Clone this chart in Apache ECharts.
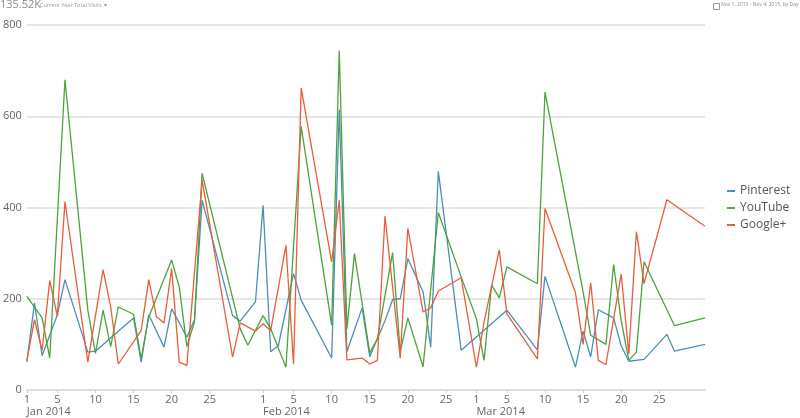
<!DOCTYPE html>
<html>
<head>
<meta charset="utf-8">
<script src="https://cdn.jsdelivr.net/npm/echarts@6/dist/echarts.min.js"></script>
<style>
  html, body { margin: 0; padding: 0; background: #fff; }
  #chart { width: 800px; height: 418px; }
</style>
</head>
<body>
<div id="chart"></div>
<script>
// visits per day, [date, value]
var pinterest = [
  ['2014-01-01', 61], ['2014-01-02', 191], ['2014-01-03', 75], ['2014-01-05', 165], ['2014-01-06', 242],
  ['2014-01-09', 83], ['2014-01-10', 85], ['2014-01-15', 158], ['2014-01-16', 61], ['2014-01-17', 165],
  ['2014-01-19', 94], ['2014-01-20', 178], ['2014-01-22', 116], ['2014-01-23', 154], ['2014-01-24', 416],
  ['2014-01-28', 163], ['2014-01-29', 151], ['2014-01-31', 193], ['2014-02-01', 405], ['2014-02-02', 84],
  ['2014-02-03', 97], ['2014-02-05', 255], ['2014-02-06', 197], ['2014-02-10', 70], ['2014-02-11', 614],
  ['2014-02-12', 84], ['2014-02-14', 180], ['2014-02-15', 73], ['2014-02-17', 152], ['2014-02-18', 198],
  ['2014-02-19', 200], ['2014-02-20', 288], ['2014-02-22', 215], ['2014-02-23', 94], ['2014-02-24', 479],
  ['2014-02-27', 87], ['2014-03-05', 175], ['2014-03-09', 88], ['2014-03-10', 249], ['2014-03-14', 50],
  ['2014-03-15', 129], ['2014-03-16', 73], ['2014-03-17', 176], ['2014-03-19', 158], ['2014-03-20', 97],
  ['2014-03-21', 63], ['2014-03-23', 67], ['2014-03-26', 122], ['2014-03-27', 85], ['2014-03-31', 100]
];

var youtube = [
  ['2014-01-01', 205], ['2014-01-03', 158], ['2014-01-04', 70], ['2014-01-06', 680], ['2014-01-09', 175],
  ['2014-01-10', 80], ['2014-01-11', 175], ['2014-01-12', 95], ['2014-01-13', 182], ['2014-01-15', 166],
  ['2014-01-16', 68], ['2014-01-17', 160], ['2014-01-20', 285], ['2014-01-21', 226], ['2014-01-22', 95],
  ['2014-01-23', 150], ['2014-01-24', 475], ['2014-01-29', 134], ['2014-01-30', 98], ['2014-02-01', 163],
  ['2014-02-02', 134], ['2014-02-04', 50], ['2014-02-06', 578], ['2014-02-10', 142], ['2014-02-11', 744],
  ['2014-02-12', 134], ['2014-02-13', 299], ['2014-02-15', 81], ['2014-02-16', 112], ['2014-02-18', 301],
  ['2014-02-19', 84], ['2014-02-20', 158], ['2014-02-22', 51], ['2014-02-24', 389], ['2014-02-27', 248],
  ['2014-03-01', 156], ['2014-03-02', 65], ['2014-03-03', 230], ['2014-03-04', 202], ['2014-03-05', 270],
  ['2014-03-09', 233], ['2014-03-10', 653], ['2014-03-15', 215], ['2014-03-16', 120], ['2014-03-18', 100],
  ['2014-03-19', 275], ['2014-03-20', 152], ['2014-03-21', 65], ['2014-03-22', 83], ['2014-03-23', 281],
  ['2014-03-27', 141], ['2014-03-31', 158]
];

var googlePlus = [
  ['2014-01-01', 65], ['2014-01-02', 154], ['2014-01-03', 87], ['2014-01-04', 240], ['2014-01-05', 162],
  ['2014-01-06', 413], ['2014-01-09', 61], ['2014-01-11', 264], ['2014-01-12', 182], ['2014-01-13', 57],
  ['2014-01-16', 130], ['2014-01-17', 242], ['2014-01-18', 161], ['2014-01-19', 147], ['2014-01-20', 266],
  ['2014-01-21', 61], ['2014-01-22', 54], ['2014-01-24', 460], ['2014-01-28', 72], ['2014-01-29', 147],
  ['2014-01-31', 129], ['2014-02-01', 145], ['2014-02-02', 130], ['2014-02-04', 317], ['2014-02-05', 57],
  ['2014-02-06', 662], ['2014-02-10', 281], ['2014-02-11', 416], ['2014-02-12', 66], ['2014-02-14', 70],
  ['2014-02-15', 57], ['2014-02-16', 65], ['2014-02-17', 381], ['2014-02-19', 70], ['2014-02-20', 354],
  ['2014-02-22', 171], ['2014-02-23', 180], ['2014-02-24', 217], ['2014-02-27', 246], ['2014-03-01', 50],
  ['2014-03-02', 149], ['2014-03-04', 307], ['2014-03-05', 167], ['2014-03-09', 68], ['2014-03-10', 398],
  ['2014-03-14', 213], ['2014-03-15', 100], ['2014-03-16', 235], ['2014-03-17', 65], ['2014-03-18', 56],
  ['2014-03-20', 254], ['2014-03-21', 79], ['2014-03-22', 347], ['2014-03-23', 233], ['2014-03-26', 417],
  ['2014-03-31', 359]
];

// tick labels on the date axis
var tickDates = [
  '2014-01-01', '2014-01-05', '2014-01-10', '2014-01-15', '2014-01-20', '2014-01-25',
  '2014-02-01', '2014-02-05', '2014-02-10', '2014-02-15', '2014-02-20', '2014-02-25',
  '2014-03-01', '2014-03-05', '2014-03-10', '2014-03-15', '2014-03-20', '2014-03-25'
];
var monthDates = ['2014-01-01', '2014-02-01', '2014-03-01'];
var monthNames = ['Jan', 'Feb', 'Mar', 'Apr', 'May', 'Jun', 'Jul', 'Aug', 'Sep', 'Oct', 'Nov', 'Dec'];

var COLORS = ['#4a8fb5', '#4ba33a', '#ea5d3a'];
var FONT = '"Open Sans", "Noto Sans", sans-serif';

function ts(s) {
  var p = s.split('-');
  return Date.UTC(+p[0], +p[1] - 1, +p[2]);
}

var chart = echarts.init(document.getElementById('chart'));

var option = {
  animation: false,
  color: COLORS,
  textStyle: { fontFamily: FONT },
  grid: { left: 26, right: 95, top: 25, bottom: 28 },
  legend: {
    orient: 'vertical',
    left: 722,
    top: 180,
    icon: 'rect',
    itemWidth: 8,
    itemHeight: 2,
    itemGap: 5,
    textStyle: { color: '#555', fontSize: 12, fontFamily: FONT },
    data: ['Pinterest', 'YouTube', 'Google+']
  },
  graphic: [
    { type: 'text', left: 0, top: -1,
      style: { text: '135.52K', fill: '#8a8a8a', font: '11px ' + FONT } },
    { type: 'text', left: 40, top: 2,
      style: { text: 'Current Year Total Visits  \u25BE', fill: '#9a9a9a', font: '5.5px ' + FONT } },
    { type: 'rect', left: 711, top: 1, shape: { width: 6, height: 6 },
      style: { fill: 'none', stroke: '#999', lineWidth: 1 } },
    { type: 'text', left: 721, top: 2,
      style: { text: 'Nov 1, 2013 - Nov 4, 2015, by Day  \u25BE', fill: '#8a8a8a', font: '5px ' + FONT } }
  ],
  xAxis: [{
    type: 'value',
    min: ts('2014-01-01'),
    max: ts('2014-03-31'),
    axisLine: { lineStyle: { color: '#ddd', width: 2 } },
    axisTick: { show: true, length: 3, lineStyle: { color: '#ccc' }, customValues: tickDates.map(ts) },
    splitLine: { show: false },
    axisLabel: {
      color: '#666', fontSize: 11, margin: 4,
      customValues: tickDates.map(ts),
      formatter: function (v) { return String(new Date(v).getUTCDate()); }
    }
  }, {
    type: 'value',
    position: 'bottom',
    min: ts('2014-01-01'),
    max: ts('2014-03-31'),
    axisLine: { show: false },
    axisTick: { show: false },
    splitLine: { show: false },
    axisLabel: {
      color: '#666', fontSize: 11, margin: 16, align: 'left',
      customValues: monthDates.map(ts),
      formatter: function (v) {
        var d = new Date(v);
        return monthNames[d.getUTCMonth()] + ' ' + d.getUTCFullYear();
      }
    }
  }],
  yAxis: {
    type: 'value',
    min: 0,
    max: 800,
    interval: 200,
    axisLine: { show: false },
    axisTick: { show: false },
    axisLabel: { color: '#666', fontSize: 11, margin: 5 },
    splitLine: { lineStyle: { color: '#ddd', width: 1.5 } }
  },
  series: [
    { name: 'Pinterest', data: pinterest },
    { name: 'YouTube', data: youtube },
    { name: 'Google+', data: googlePlus }
  ].map(function (s) {
    return {
      name: s.name,
      type: 'line',
      data: s.data.map(function (d) { return [ts(d[0]), d[1]]; }),
      showSymbol: false,
      lineStyle: { width: 1.3 }
    };
  })
};

chart.setOption(option);
</script>
</body>
</html>
